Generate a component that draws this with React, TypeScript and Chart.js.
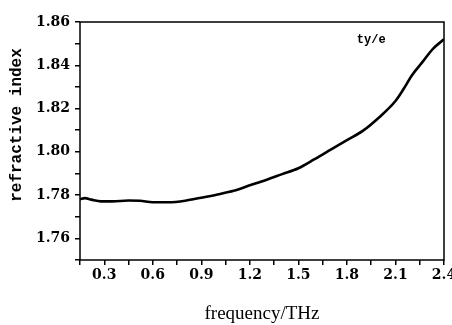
import React, { useEffect, useRef } from "react";
import { Chart, registerables } from "chart.js";

Chart.register(...registerables);

const FREQ = [0.15, 0.18, 0.22, 0.28, 0.35, 0.45, 0.52, 0.6, 0.7, 0.8, 0.9, 1.0, 1.1, 1.2, 1.3, 1.4, 1.5, 1.6, 1.7, 1.8, 1.9, 2.0, 2.1, 2.15, 2.2, 2.27, 2.33, 2.4];
const INDEX = [1.7781, 1.7786, 1.7779, 1.7771, 1.7771, 1.7775, 1.7774, 1.7767, 1.7767, 1.7774, 1.7788, 1.7803, 1.782, 1.7845, 1.787, 1.7897, 1.7924, 1.7966, 1.801, 1.8054, 1.8098, 1.816, 1.8235, 1.829, 1.8352, 1.8418, 1.8475, 1.852];
const X_TICKS = [0.15, 0.3, 0.45, 0.6, 0.75, 0.9, 1.05, 1.2, 1.35, 1.5, 1.65, 1.8, 1.95, 2.1, 2.25, 2.4];
const X_LABELS = [0.3, 0.6, 0.9, 1.2, 1.5, 1.8, 2.1, 2.4];
const Y_TICKS = [1.75, 1.76, 1.77, 1.78, 1.79, 1.8, 1.81, 1.82, 1.83, 1.84, 1.85, 1.86];
const Y_LABELS = [1.76, 1.78, 1.8, 1.82, 1.84, 1.86];
const X_TITLE = "frequency/THz";
const Y_TITLE = "refractive index";
const NOTE = "ty/e";

const near = (list: number[], v: number) => list.some((t) => Math.abs(t - v) < 1e-6);

const decorPlugin = {
  id: "decor",
  afterDraw(chart: any) {
    const { ctx, chartArea } = chart;
    const { left, right, top, bottom } = chartArea;
    ctx.save();
    ctx.strokeStyle = "#000";
    ctx.lineWidth = 1.5;
    ctx.strokeRect(left, top, right - left, bottom - top);
    ctx.fillStyle = "#000";
    ctx.font = "bold 16px 'Liberation Mono', monospace";
    ctx.textAlign = "center";
    ctx.textBaseline = "middle";
    ctx.translate(17, 125);
    ctx.rotate(-Math.PI / 2);
    ctx.fillText(Y_TITLE, 0, 0);
    ctx.restore();
    ctx.save();
    ctx.fillStyle = "#000";
    ctx.font = "bold 12px 'Liberation Mono', monospace";
    ctx.textAlign = "center";
    ctx.textBaseline = "middle";
    const xs = chart.scales.x;
    const ys = chart.scales.y;
    ctx.fillText(NOTE, xs.getPixelForValue(1.95), ys.getPixelForValue(1.8515));
    ctx.restore();
  },
};

export default function App() {
  const ref = useRef<HTMLCanvasElement | null>(null);
  useEffect(() => {
    if (!ref.current) return;
    const chart = new Chart(ref.current, {
      type: "line",
      data: {
        datasets: [
          {
            data: FREQ.map((f, i) => ({ x: f, y: INDEX[i] })),
            borderColor: "#000",
            borderWidth: 2.6,
            pointRadius: 0,
            cubicInterpolationMode: "monotone",
            fill: false,
          },
        ],
      },
      options: {
        responsive: false,
        animation: false,
        layout: { padding: { top: 22, right: 8, left: 0, bottom: 0 } },
        plugins: { legend: { display: false }, tooltip: { enabled: false } },
        scales: {
          x: {
            type: "linear",
            min: 0.15,
            max: 2.4,
            afterBuildTicks: (s: any) => {
              s.ticks = X_TICKS.map((v) => ({ value: v }));
            },
            afterFit: (s: any) => {
              s.height = 65;
              s.paddingLeft = 0;
              s.paddingRight = 0;
            },
            grid: { drawOnChartArea: false, tickLength: 5, color: "#000", lineWidth: 1.5 },
            border: { display: false },
            ticks: {
              color: "#000",
              autoSkip: false,
              maxRotation: 0,
              padding: 2,
              font: { family: "'DejaVu Serif', serif", weight: "bold", size: 14 },
              callback: (v: any) => (near(X_LABELS, v) ? Number(v).toFixed(1) : ""),
            },
            title: {
              display: true,
              text: X_TITLE,
              color: "#000",
              font: { family: "'Liberation Serif', serif", size: 19 },
              padding: { top: 16, bottom: 0 },
            },
          },
          y: {
            type: "linear",
            min: 1.75,
            max: 1.86,
            afterBuildTicks: (s: any) => {
              s.ticks = Y_TICKS.map((v) => ({ value: v }));
            },
            afterFit: (s: any) => {
              s.width = 80;
              s.paddingTop = 0;
              s.paddingBottom = 0;
            },
            grid: { drawOnChartArea: false, tickLength: 5, color: "#000", lineWidth: 1.5 },
            border: { display: false },
            ticks: {
              color: "#000",
              autoSkip: false,
              padding: 5,
              font: { family: "'DejaVu Serif', serif", weight: "bold", size: 14 },
              callback: (v: any) => (near(Y_LABELS, v) ? Number(v).toFixed(2) : ""),
            },
          },
        },
      },
      plugins: [decorPlugin],
    } as any);
    return () => chart.destroy();
  }, []);
  return (
    <div style={{ position: "fixed", left: 0, top: 0, width: 452, height: 325, background: "#fff" }}>
      <canvas ref={ref} width={452} height={325} style={{ width: 452, height: 325 }} />
    </div>
  );
}
